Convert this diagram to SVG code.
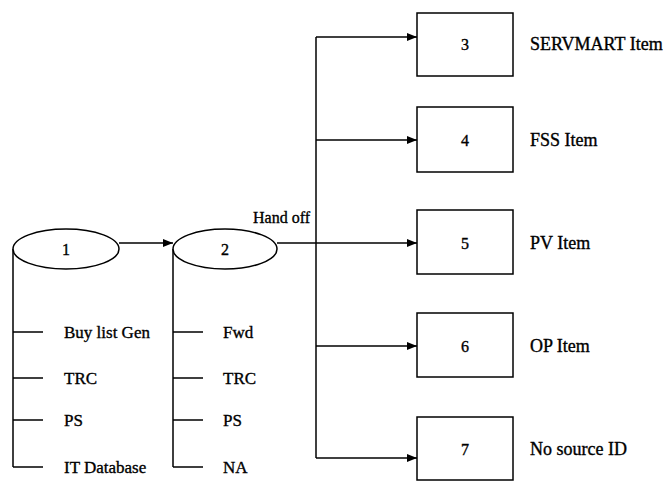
<svg xmlns="http://www.w3.org/2000/svg" width="669" height="481" viewBox="0 0 669 481" font-family="'Liberation Serif', 'DejaVu Serif', serif" font-size="16">
<style>
.s{fill:none;stroke:#000;stroke-width:1.5}
.n{fill:#fff;stroke:#000;stroke-width:1.5}
text{font-family:'Liberation Serif','DejaVu Serif',serif;font-size:16px;fill:#000;stroke:#000;stroke-width:0.35}
.c{text-anchor:middle}
.l{font-size:17px}
.r{font-size:18px}
</style>
<defs>
<marker id="ah" viewBox="0 0 10 8" refX="10" refY="4" markerWidth="10" markerHeight="8" markerUnits="userSpaceOnUse" orient="auto">
<path d="M0,0 L10,4 L0,8 Z" fill="#000"/>
</marker>
</defs>
<g id="connectors">
<path class="s" d="M119,243 H173" marker-end="url(#ah)"/>
<path class="s" d="M277,243 H316"/>
<path class="s" d="M316,37 V458"/>
<path class="s" d="M316,37 H417" marker-end="url(#ah)"/>
<path class="s" d="M316,140 H417" marker-end="url(#ah)"/>
<path class="s" d="M316,243 H417" marker-end="url(#ah)"/>
<path class="s" d="M316,346 H417" marker-end="url(#ah)"/>
<path class="s" d="M316,458 H417" marker-end="url(#ah)"/>
<path class="s" d="M13,249 V467 M13,332 H43 M13,378 H43 M13,420 H43 M13,467 H43"/>
<path class="s" d="M173,249 V467 M173,332 H203 M173,378 H203 M173,420 H203 M173,467 H203"/>
<text x="253" y="223">Hand off</text>
</g>
<g id="node1">
<ellipse class="n" cx="66" cy="249" rx="53" ry="20"/>
<text class="c" x="66" y="255">1</text>
</g>
<g id="node1-items">
<text class="l" x="64" y="338">Buy list Gen</text>
<text class="l" x="64" y="384">TRC</text>
<text class="l" x="64" y="426">PS</text>
<text class="l" x="64" y="473">IT Database</text>
</g>
<g id="node2">
<ellipse class="n" cx="225" cy="249" rx="52" ry="20"/>
<text class="c" x="225" y="255">2</text>
</g>
<g id="node2-items">
<text class="l" x="223" y="338">Fwd</text>
<text class="l" x="223" y="384">TRC</text>
<text class="l" x="223" y="426">PS</text>
<text class="l" x="223" y="473">NA</text>
</g>
<g id="node3">
<rect class="n" x="417" y="13" width="96" height="63"/>
<text class="c" x="465" y="50">3</text>
<text class="r" x="530" y="50">SERVMART Item</text>
</g>
<g id="node4">
<rect class="n" x="417" y="107" width="96" height="65"/>
<text class="c" x="465" y="146">4</text>
<text class="r" x="530" y="146">FSS Item</text>
</g>
<g id="node5">
<rect class="n" x="417" y="210" width="96" height="64"/>
<text class="c" x="465" y="249">5</text>
<text class="r" x="530" y="249">PV Item</text>
</g>
<g id="node6">
<rect class="n" x="417" y="313" width="96" height="64"/>
<text class="c" x="465" y="352">6</text>
<text class="r" x="530" y="352">OP Item</text>
</g>
<g id="node7">
<rect class="n" x="417" y="417" width="96" height="63"/>
<text class="c" x="465" y="455">7</text>
<text class="r" x="530" y="455">No source ID</text>
</g>
</svg>
